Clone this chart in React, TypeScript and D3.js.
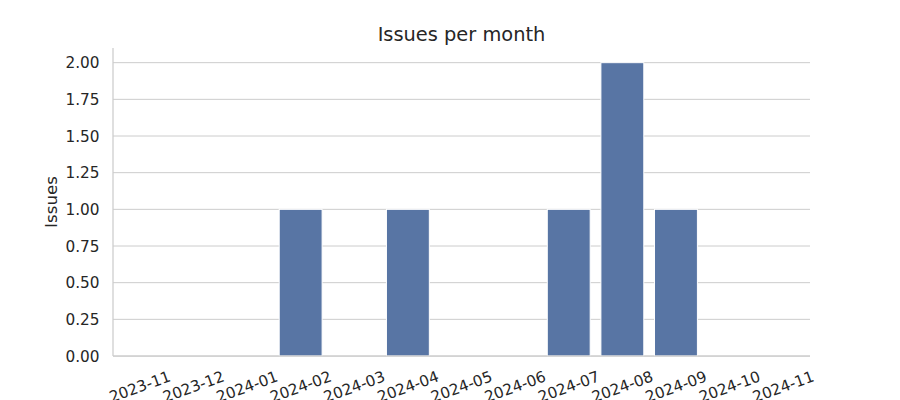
import React from "react";
import * as d3 from "d3";

const months = ["2023-11","2023-12","2024-01","2024-02","2024-03","2024-04","2024-05","2024-06","2024-07","2024-08","2024-09","2024-10","2024-11"];
const issues = [0,0,0,1,0,1,0,0,1,2,1,0,0];
const yTicks = [0,0.25,0.5,0.75,1,1.25,1.5,1.75,2];

export default function App() {
  const W = 900, H = 400;
  const left = 113, right = 810, top = 48, bottom = 356;
  const x = d3.scaleBand<string>().domain(months).range([left, right]).padding(0);
  const y = d3.scaleLinear().domain([0, 2.1]).range([bottom, top]);
  const bw = x.bandwidth() * 0.8;
  const font = "DejaVu Sans, sans-serif";
  const txt = "#262626";
  return (
    <svg width={W} height={H} style={{ position: "absolute", left: 0, top: 0 }} fontFamily={font}>
      <rect x={0} y={0} width={W} height={H} fill="#fff" />
      {yTicks.map((t) => (
        <line key={"g" + t} x1={left} x2={right} y1={y(t)} y2={y(t)} stroke="#cccccc" strokeWidth={1} />
      ))}
      {months.map((m, i) => (
        <rect key={m} x={x(m)! + x.bandwidth() / 2 - bw / 2} y={y(issues[i])} width={bw}
          height={bottom - y(issues[i])} fill="#5875a4" stroke="#ffffff" strokeWidth={1} />
      ))}
      <line x1={left} x2={left} y1={top} y2={bottom} stroke="#cccccc" strokeWidth={1.25} />
      <line x1={left} x2={right} y1={bottom} y2={bottom} stroke="#cccccc" strokeWidth={1.25} />
      {yTicks.map((t) => (
        <text key={"t" + t} x={99.5} y={y(t)} dy="0.36em" textAnchor="end" fontSize={15.3} fill={txt}>
          {t.toFixed(2)}
        </text>
      ))}
      {months.map((m) => {
        const cx = x(m)! + x.bandwidth() / 2;
        const cy = 386.5;
        return (
          <text key={"x" + m} x={cx} y={cy} dy="0.36em" textAnchor="middle" fontSize={15.3} fill={txt}
            transform={`rotate(-20 ${cx} ${cy})`}>
            {m}
          </text>
        );
      })}
      <text x={0} y={0} transform={`translate(57, ${(top + bottom) / 2}) rotate(-90)`} textAnchor="middle"
        fontSize={16.7} fill={txt}>Issues</text>
      <text x={(left + right) / 2} y={40.5} textAnchor="middle" fontSize={19.4} fill={txt}>Issues per month</text>
    </svg>
  );
}
